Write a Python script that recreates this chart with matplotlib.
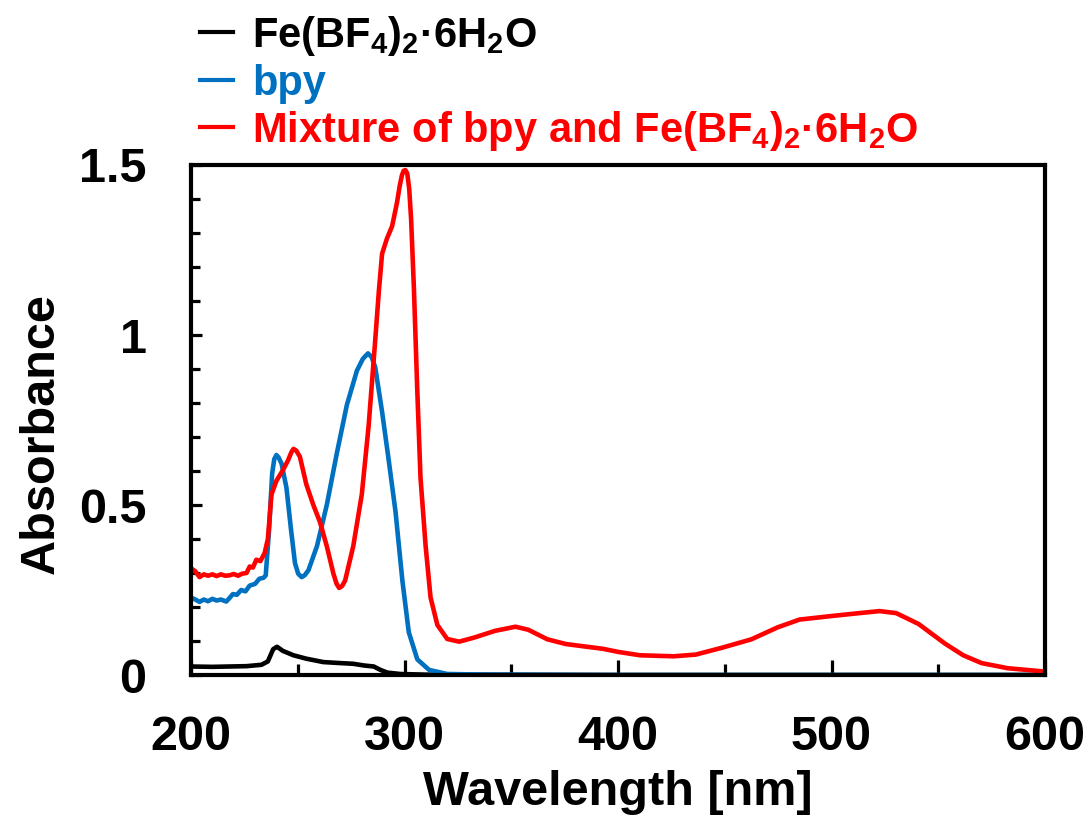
import matplotlib.pyplot as plt
from matplotlib.lines import Line2D
from matplotlib.ticker import MultipleLocator, FuncFormatter

# bold Arial-like text everywhere, mathtext subscripts too
plt.rcParams['font.family'] = ['Liberation Sans', 'DejaVu Sans']
plt.rcParams['font.weight'] = 'bold'
plt.rcParams['mathtext.fontset'] = 'custom'
plt.rcParams['mathtext.rm'] = 'Liberation Sans:bold'
plt.rcParams['mathtext.bf'] = 'Liberation Sans:bold'
plt.rcParams['mathtext.default'] = 'rm'

# --- data (wavelength nm, absorbance) ---
fe_wl = [200, 210, 218, 226, 233, 236, 238.5, 240.3, 243, 248, 254, 262, 270, 276, 281,
         285.6, 288.7, 292, 298, 310, 400, 500, 600]
fe_abs = [0.025, 0.024, 0.025, 0.026, 0.030, 0.040, 0.076, 0.083, 0.071, 0.058, 0.048, 0.038,
          0.035, 0.033, 0.028, 0.025, 0.015, 0.007, 0.003, 0.001, 0.0, 0.0, 0.0]

bpy_wl = [200, 202, 204, 206, 208, 210, 212, 214, 216.5, 218, 219.6, 221.5, 223.5, 225.5,
          227.5, 230, 232, 234, 235, 236.6, 238, 239, 240, 241, 242.4, 244.7, 246.8, 248.7,
          250.2, 251.8, 253.2, 255, 259, 263.6, 268.3, 273, 277.7, 280.5, 282.9, 284.6,
          286.3, 289.5, 292.6, 295.8, 299, 302, 306, 311.5, 320, 340, 400, 500, 600]
bpy_abs = [0.228, 0.222, 0.215, 0.222, 0.217, 0.224, 0.219, 0.222, 0.216, 0.226, 0.238, 0.236,
           0.250, 0.246, 0.263, 0.268, 0.283, 0.286, 0.293, 0.43, 0.592, 0.635, 0.647, 0.640,
           0.622, 0.551, 0.43, 0.329, 0.298, 0.288, 0.293, 0.308, 0.379, 0.50, 0.652, 0.794,
           0.895, 0.93, 0.946, 0.935, 0.905, 0.774, 0.632, 0.48, 0.278, 0.126, 0.046, 0.015,
           0.003, 0.001, 0.0, 0.0, 0.0]

mix_wl = [200, 202, 204, 206, 208, 210, 212, 214, 216, 218, 220, 222, 224, 226, 227.5, 229,
          230.6, 232.5, 234.5, 236, 237.7, 240, 243, 245.5, 247, 248, 249.3, 251, 254, 257.3,
          260.4, 263.6, 266.7, 268.2, 269.4, 270.8, 272.2, 276, 280, 283.2, 286.3, 288,
          289.5, 291.8, 294.2, 296.5, 297.8, 298.8, 299.6, 300.4, 301.3, 302.2, 303.1, 304.4,
          306, 307.5, 309.9, 312.2, 315.4, 320, 325.6, 332.6, 342.5, 352, 358, 366.9, 375.6,
          393, 400, 410.3, 426, 436.4, 448.6, 462.5, 474.7, 485, 500.8, 513, 522.5, 530.3,
          540.8, 553, 561.7, 570.3, 582.5, 600]
mix_abs = [0.314, 0.305, 0.288, 0.296, 0.292, 0.296, 0.291, 0.296, 0.292, 0.293, 0.297, 0.292,
           0.298, 0.300, 0.319, 0.316, 0.339, 0.335, 0.359, 0.40, 0.531, 0.571, 0.602, 0.632,
           0.655, 0.665, 0.660, 0.642, 0.561, 0.50, 0.45, 0.379, 0.298, 0.268, 0.256, 0.262,
           0.278, 0.379, 0.531, 0.733, 0.986, 1.13, 1.239, 1.284, 1.32, 1.39, 1.44, 1.47,
           1.483, 1.485, 1.475, 1.43, 1.34, 1.138, 0.834, 0.58, 0.379, 0.228, 0.147, 0.106,
           0.098, 0.110, 0.130, 0.142, 0.133, 0.105, 0.091, 0.077, 0.068, 0.058, 0.055, 0.060,
           0.080, 0.105, 0.140, 0.163, 0.174, 0.182, 0.188, 0.182, 0.150, 0.093, 0.058, 0.035,
           0.020, 0.010]

labels = [r'Fe(BF$_4$)$_2$·6H$_2$O', 'bpy', r'Mixture of bpy and Fe(BF$_4$)$_2$·6H$_2$O']
colors = ['#000000', '#0070C0', '#FF0000']

W, H = 1088, 821
fig = plt.figure(figsize=(W / 100, H / 100), dpi=100)
ax = fig.add_axes([191 / W, 1 - 675 / H, (1045 - 191) / W, (675 - 165) / H])

for wl, ab, lab, c in zip([fe_wl, bpy_wl, mix_wl], [fe_abs, bpy_abs, mix_abs], labels, colors):
    ax.plot(wl, ab, color=c, lw=3.3, label=lab, solid_joinstyle='round', solid_capstyle='round')

ax.set_xlim(200, 600)
ax.set_ylim(0, 1.5)
ax.xaxis.set_major_locator(MultipleLocator(100))
ax.xaxis.set_minor_locator(MultipleLocator(50))
ax.yaxis.set_major_locator(MultipleLocator(0.5))
ax.yaxis.set_minor_locator(MultipleLocator(0.1))
ax.yaxis.set_major_formatter(FuncFormatter(lambda v, p: f'{v:g}'))

for s in ax.spines.values():
    s.set_linewidth(3)
ax.tick_params(which='both', direction='in', top=False, right=False, labelsize=35, width=2.3)
ax.tick_params(axis='x', which='major', length=11, pad=29)
ax.tick_params(axis='x', which='minor', length=8)
ax.tick_params(axis='y', which='major', length=8, pad=32)
ax.tick_params(axis='y', which='minor', length=6.5)

ax.set_xlabel('Wavelength [nm]', fontsize=35, fontweight='bold', labelpad=7)
ax.set_ylabel('Absorbance', fontsize=35, fontweight='bold', labelpad=11)
ax.yaxis.label.set_y(0.4725)

# legend drawn by hand above the axes, text coloured like its line
rows_y = [32, 80, 127]
for line, y in zip(ax.get_lines(), rows_y):
    fig.add_artist(Line2D([200 / W, 233 / W], [1 - y / H, 1 - y / H], transform=fig.transFigure,
                          color=line.get_color(), lw=3))
    fig.text(252 / W, 1 - (y + 15) / H, line.get_label(), color=line.get_color(),
             fontsize=30, fontweight='bold', va='baseline', ha='left')

fig.savefig('out.png', dpi=100)
